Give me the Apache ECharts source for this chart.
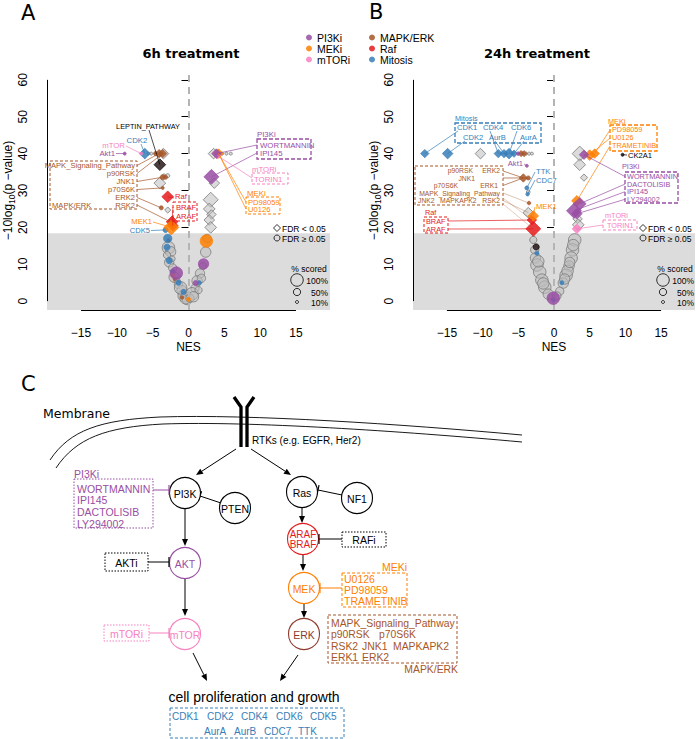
<!DOCTYPE html>
<html><head><meta charset="utf-8">
<script src="https://cdn.jsdelivr.net/npm/echarts@6.0.0/dist/echarts.min.js"></script>
<style>html,body{margin:0;padding:0;background:#fff;}#chart{width:696px;height:739px;}</style>
</head><body><div id="chart"></div>
<script>
// ---------------- DATA ----------------
// point = [NES, -10log10(p-value), % scored, FDR<0.05 ? 1 : 0]
const X_TICKS = [-15, -10, -5, 0, 5, 10, 15];
const Y_TICKS = [0, 10, 20, 30, 40, 50, 60];
const X_RANGE = [-19.75, 19.75];
const Y_RANGE = [-2.4, 62.4];
const FDR_CUTOFF = 18.4;
const SIZE_LEGEND = [100, 50, 10];

// ---- panel A : 6h treatment ----
const A_other = [
  [-3.5, 40, 60, 1], [-4.0, 32, 70, 1], [-2.9, 24.7, 20, 1], [-5.2, 40, 10, 0], [-5.6, 40, 10, 0],
  [-2.9, 34, 20, 0], [-3.4, 34, 15, 0],
  [3.5, 40, 60, 1], [3.6, 32, 60, 1], [3.1, 27.5, 100, 1], [2.9, 25, 70, 1], [3.2, 23.5, 50, 1],
  [2.9, 22, 60, 1], [3.1, 20, 70, 1], [4.7, 40, 10, 0], [5.3, 40, 10, 0], [5.9, 40, 10, 0],
  [-2.8, 14.5, 100, 0], [-2.5, 13.4, 80, 0], [-3.0, 12.5, 50, 0], [-2.7, 10.5, 70, 0], [-2.2, 9.0, 60, 0],
  [-2.0, 6.5, 80, 0], [-1.6, 5.5, 40, 0], [-1.4, 4.5, 60, 0], [-0.9, 2.8, 80, 0], [-0.6, 1.5, 100, 0],
  [-0.2, 0.3, 70, 0], [-2.3, 11.5, 40, 0], [-1.1, 3.6, 100, 0], [-0.4, 0.8, 90, 0],
  [2.6, 17, 60, 0], [2.4, 13.3, 80, 0], [2.0, 9.5, 50, 0], [1.6, 7.5, 70, 0], [1.2, 5.5, 80, 0],
  [0.9, 3.5, 60, 0], [0.5, 2.0, 100, 0], [0.2, 0.8, 60, 0], [1.4, 3.0, 50, 0], [1.8, 6.2, 60, 0], [0.7, 1.2, 80, 0]
];
const A_black = [[-4.0, 37, 70, 1]];
const A_pi3k = [[3.9, 40, 50, 1], [3.2, 33.7, 100, 1], [2.1, 10.1, 80, 0], [-1.7, 7.6, 100, 0], [1.0, 4.9, 30, 0], [-8.9, 40, 10, 0]];
const A_mek = [[4.2, 40, 50, 1], [2.5, 16.3, 100, 0], [-2.4, 20, 100, 1], [0.0, 0.5, 20, 0], [-2.2, 7.0, 20, 0]];
const A_mtor = [[4.0, 39.5, 30, 1], [-6.6, 40, 10, 0]];
const A_mapk = [[-4.1, 40, 40, 1], [-3.6, 40, 40, 1], [-3.6, 33.6, 30, 0], [-3.6, 30.7, 10, 0], [-3.8, 25.3, 20, 0],
  [-2.5, 21.5, 20, 0], [-4.6, 40, 20, 0], [-3.2, 33.6, 20, 0], [-2.8, 16.5, 15, 0], [-1.9, 6.0, 15, 0], [-0.9, 1.0, 15, 0]];
const A_raf = [[-2.9, 28.3, 70, 1], [-2.3, 21.5, 70, 1], [-2.2, 20.5, 60, 1]];
const A_mitosis = [[-6.1, 40, 60, 1], [-3.2, 19.3, 30, 0], [-2.9, 17, 60, 0], [-3.0, 14.6, 40, 0], [-2.7, 11, 40, 0],
  [-2.2, 8, 30, 0], [-1.4, 5, 30, 0], [-0.7, 2.5, 30, 0], [1.5, 5, 20, 0]];

// ---- panel B : 24h treatment ----
const B_other = [
  [-10.3, 40, 60, 1], [-3.9, 40, 10, 0], [-3.5, 40, 10, 0], [-3.1, 40, 10, 0], [-3.6, 29.6, 15, 0],
  [-3.6, 24, 60, 1], [3.6, 40, 100, 1], [3.6, 37, 70, 1], [4.2, 33.5, 30, 1], [3.3, 22.3, 50, 1], [3.4, 20.7, 70, 1],
  [-2.9, 16.6, 50, 0], [-2.7, 13.9, 60, 0], [-2.6, 11.7, 80, 0], [-2.4, 9.8, 100, 0], [-2.0, 7.9, 100, 0],
  [-1.7, 5.7, 100, 0], [-1.3, 3.8, 100, 0], [-0.8, 1.9, 80, 0], [-2.2, 10.8, 90, 0], [-1.5, 4.8, 90, 0],
  [2.9, 16.6, 100, 0], [2.6, 13.9, 100, 0], [2.4, 11.7, 100, 0], [2.1, 9.5, 80, 0], [1.7, 7, 100, 0],
  [1.3, 4.9, 80, 0], [0.8, 2.7, 60, 0], [0.4, 1.4, 60, 0], [2.7, 15.2, 90, 0], [1.9, 8.2, 90, 0],
  [1.5, 6.0, 80, 0], [2.2, 10.5, 80, 0]
];
const B_black = [[9.6, 39.7, 10, 0], [-2.5, 14.7, 40, 0]];
const B_pi3k = [[4.2, 39.7, 50, 1], [3.6, 26.4, 80, 1], [2.8, 24.5, 100, 1], [3.2, 23.7, 60, 1], [-0.1, 0.8, 100, 0], [-3.8, 36.7, 10, 0], [-5.0, 40, 15, 0]];
const B_mek = [[5.7, 40, 50, 1], [5.0, 39.6, 60, 1], [3.2, 27.2, 60, 1], [-2.9, 23.1, 60, 1]];
const B_mtor = [[3.2, 19.6, 50, 1]];
const B_mapk = [[-4.3, 33.4, 40, 1], [-3.6, 33.4, 20, 0], [-3.5, 26.6, 15, 0], [-4.6, 40, 20, 1], [-4.2, 40, 20, 1]];
const B_raf = [[-3.1, 22, 50, 1], [-2.9, 19.6, 100, 1]];
const B_mitosis = [[-18.1, 40, 40, 1], [-14.9, 40, 60, 1], [-7.8, 40, 40, 1], [-7.0, 40, 40, 1], [-6.3, 40, 60, 1],
  [-5.6, 40, 30, 1], [-3.8, 30.7, 20, 0], [-3.7, 29.0, 15, 0], [-2.4, 13, 20, 0], [-0.1, 0.3, 20, 0], [1.1, 5, 20, 0]];

// ---------------- STYLE ----------------
const FONT = '"Liberation Sans", Arial, Helvetica, sans-serif';
const DJV = '"DejaVu Sans", Verdana, sans-serif';
const C = {pi3k:'#984EA3', mek:'#FF7F00', mtor:'#F781BF', mapk:'#A65628', raf:'#E41A1C', mit:'#377EB8', erk:'#8E3B2E'};
const ANN = 7.3;

const GROUPS = [
  {name:'other', color:'rgba(190,190,190,0.55)', border:'#7a7a7a', A:A_other, B:B_other},
  {name:'labelled', color:'#2a1a1a', border:'#000', A:A_black, B:B_black},
  {name:'MAPK/ERK', color:C.mapk, A:A_mapk, B:B_mapk},
  {name:'Mitosis', color:C.mit, A:A_mitosis, B:B_mitosis},
  {name:'Raf', color:C.raf, A:A_raf, B:B_raf},
  {name:'MEKi', color:C.mek, A:A_mek, B:B_mek},
  {name:'mTORi', color:C.mtor, A:A_mtor, B:B_mtor},
  {name:'PI3Ki', color:C.pi3k, A:A_pi3k, B:B_pi3k}
];
const symFn = v => v[3] ? 'diamond' : 'circle';
const sizeFn = v => v[3] ? 4 + 0.11 * v[2] : 2 + 0.105 * v[2];
const minus = v => v < 0 ? '\u2212' + (-v) : '' + v;

const chart = echarts.init(document.getElementById('chart'), null, {renderer:'svg'});

const grids = [
  {left:47, top:71, width:283, height:239, outerBoundsMode:'none'},
  {left:413, top:71, width:282, height:239, outerBoundsMode:'none'}
];
const xAxes = [0, 1].map(i => ({
  gridIndex:i, type:'value', min:X_RANGE[0], max:X_RANGE[1],
  name:'NES', nameLocation:'middle', nameGap:31,
  nameTextStyle:{fontSize:12, color:'#000', fontFamily:FONT},
  axisLine:{show:false}, splitLine:{show:false},
  axisTick:{show:true, customValues:X_TICKS, length:7, lineStyle:{color:'#000', width:1}},
  axisLabel:{customValues:X_TICKS, margin:17, fontSize:12, color:'#000', fontFamily:FONT, formatter:minus}
}));
const yAxes = [0, 1].map(i => ({
  gridIndex:i, type:'value', min:Y_RANGE[0], max:Y_RANGE[1],
  name:'{a|\u221210log}{s|10}{a|(p \u2212value)}', nameLocation:'middle', nameRotate:90, nameGap:30,
  nameTextStyle:{color:'#000', fontFamily:FONT, fontSize:12,
    rich:{a:{fontSize:12, fontFamily:FONT, color:'#000', lineHeight:16, verticalAlign:'middle'},
          s:{fontSize:8.5, fontFamily:FONT, color:'#000', lineHeight:16, verticalAlign:'bottom'}}},
  axisLine:{show:false}, splitLine:{show:false},
  axisTick:{show:true, customValues:Y_TICKS, length:7, lineStyle:{color:'#000', width:1}},
  axisLabel:{customValues:Y_TICKS, margin:18, rotate:90, fontSize:12, color:'#000', fontFamily:FONT}
}));

const series = [];
[0, 1].forEach(p => {
  series.push({type:'scatter', xAxisIndex:p, yAxisIndex:p, data:[], silent:true, z:1,
    markArea:{silent:true, itemStyle:{color:'#DCDCDC'},
      data:[[{coord:[X_RANGE[0], Y_RANGE[0]]}, {coord:[X_RANGE[1], FDR_CUTOFF]}]]}});
  series.push({type:'scatter', xAxisIndex:p, yAxisIndex:p, data:[], silent:true, z:2,
    markLine:{silent:true, symbol:['none', 'none'], label:{show:false}, animation:false,
      data:[
        [{coord:[0, Y_RANGE[0]], lineStyle:{color:'#b4b4b4', width:2, type:[7, 5]}}, {coord:[0, Y_RANGE[1]]}],
        [{coord:[X_TICKS[0], Y_RANGE[0]], lineStyle:{color:'#000', width:1, type:'solid'}}, {coord:[X_TICKS[X_TICKS.length - 1], Y_RANGE[0]]}],
        [{coord:[X_RANGE[0], Y_TICKS[0]], lineStyle:{color:'#000', width:1, type:'solid'}}, {coord:[X_RANGE[0], Y_TICKS[Y_TICKS.length - 1]]}]
      ]}});
  GROUPS.forEach((g, k) => {
    series.push({type:'scatter', name:g.name, xAxisIndex:p, yAxisIndex:p, data:p ? g.B : g.A,
      symbol:symFn, symbolSize:sizeFn, z:3 + k, clip:false, animation:false,
      itemStyle:{color:g.color, borderColor:g.border || g.color, borderWidth:0.8, opacity: g.name === 'other' ? 1 : 0.85}});
  });
});

const legendText = {fontSize:10.5, color:'#000', fontFamily:FONT, lineHeight:10};
chart.setOption({
  animation:false,
  textStyle:{fontFamily:FONT},
  grid:grids, xAxis:xAxes, yAxis:yAxes, series:series,
  legend:[
    {data:['PI3Ki', 'MEKi', 'mTORi'], orient:'vertical', left:306, top:32, padding:0, icon:'circle', itemWidth:6, itemHeight:6, itemGap:0,
      selectedMode:false, textStyle:legendText, itemStyle:{borderWidth:0}},
    {data:['MAPK/ERK', 'Raf', 'Mitosis'], orient:'vertical', left:369, top:32, padding:0, icon:'circle', itemWidth:6, itemHeight:6, itemGap:0,
      selectedMode:false, textStyle:legendText, itemStyle:{borderWidth:0}}
  ]
});

// ---------------- ANNOTATIONS & DIAGRAM ----------------
const G = [];
function txt(s, x, y, color, size, align, family, weight) {
  G.push({type:'text', x:x, y:y, z:100, silent:true,
    style:{text:s, fill:color, fontSize:size, fontFamily:family || FONT, fontWeight:weight || 'normal',
      align:align || 'left', verticalAlign:'middle'}});
}
function seg(x1, y1, x2, y2, color, w, dash, op) {
  G.push({type:'line', z:99, silent:true, shape:{x1:x1, y1:y1, x2:x2, y2:y2},
    style:{stroke:color, lineWidth:w || 1, lineDash:dash || null, opacity:op == null ? 1 : op}});
}
function box(x, y, w, h, color, dash, lw) {
  G.push({type:'rect', z:99, silent:true, shape:{x:x, y:y, width:w, height:h},
    style:{fill:'none', stroke:color, lineWidth:lw || 1, lineDash:dash || null}});
}
function circ(cx, cy, r, color, lw, fill) {
  G.push({type:'circle', z:99, silent:true, shape:{cx:cx, cy:cy, r:r},
    style:{fill:fill || 'none', stroke:color, lineWidth:lw || 1}});
}
function curve(x1, y1, c1x, c1y, c2x, c2y, x2, y2) {
  G.push({type:'bezierCurve', z:98, silent:true, shape:{x1:x1, y1:y1, cpx1:c1x, cpy1:c1y, cpx2:c2x, cpy2:c2y, x2:x2, y2:y2},
    style:{fill:'none', stroke:'#000', lineWidth:0.9}});
}
function lead(panel, x, y, pt, color, w, op) {
  const q = chart.convertToPixel({gridIndex:panel}, [pt[0], pt[1]]);
  seg(x, y, q[0], q[1], color, w || 0.7, null, op);
}
function arrow(x1, y1, x2, y2, color) {
  color = color || '#000';
  const a = Math.atan2(y2 - y1, x2 - x1), L = 7, W = 3;
  const bx = x2 - L * Math.cos(a), by = y2 - L * Math.sin(a);
  seg(x1, y1, bx, by, color, 1);
  G.push({type:'polygon', z:99, silent:true, shape:{points:[[x2, y2],
    [bx + W * Math.sin(a), by - W * Math.cos(a)], [bx - W * Math.sin(a), by + W * Math.cos(a)]]}, style:{fill:color}});
}
function inhib(x1, y1, x2, y2, color) {
  color = color || '#000';
  seg(x1, y1, x2, y2, color, 1);
  const a = Math.atan2(y2 - y1, x2 - x1), H = 5;
  seg(x2 + H * Math.sin(a), y2 - H * Math.cos(a), x2 - H * Math.sin(a), y2 + H * Math.cos(a), color, 1.2);
}
function node(cx, cy, label, color, size) {
  circ(cx, cy, 15.5, color, 1.1, '#fff');
  G.push({type:'text', x:cx, y:cy + 0.5, z:100, silent:true,
    style:{text:label, fill:color, fontSize:size || 10.5, fontFamily:FONT, align:'center', verticalAlign:'middle', lineHeight:10}});
}

// panel letters & titles
txt('A', 21, 13, '#000', 21, 'left', DJV);
txt('B', 369, 12, '#000', 21, 'left', DJV);
txt('C', 21, 384, '#000', 21, 'left', DJV);
txt('6h treatment', 191, 53, '#000', 13, 'center', DJV, 'bold');
txt('24h treatment', 537, 53, '#000', 13, 'center', DJV, 'bold');

// FDR and size legends (both panels)
[0, 366].forEach(dx => {
  G.push({type:'polygon', z:100, silent:true, shape:{points:[[277 + dx, 224.5], [280.5 + dx, 228], [277 + dx, 231.5], [273.5 + dx, 228]]},
    style:{fill:'none', stroke:'#000', lineWidth:0.8}});
  txt('FDR < 0.05', 282 + dx, 228.5, '#000', 8.5);
  circ(277 + dx, 238, 3, '#000', 0.8);
  txt('FDR \u2265 0.05', 282 + dx, 238.5, '#000', 8.5);
  txt('% scored', 309 + dx, 269, '#000', 8.5, 'center');
  const ys = [280, 292, 302];
  SIZE_LEGEND.forEach((pc, i) => {
    circ(297 + dx, ys[i], (2 + 0.105 * pc) / 2, '#000', 0.8);
    txt(pc + '%', 328 + dx, ys[i] + 0.5, '#000', 8.5, 'right');
  });
});

// ---- panel A labels ----
txt('LEPTIN_PATHWAY', 148, 126, '#000', ANN, 'center'); lead(0, 149, 130, A_black[0], '#000');
txt('CDK2', 137, 140, C.mit, ANN + 0.5, 'center'); lead(0, 141, 144, A_mitosis[0], C.mit);
txt('mTOR', 125, 145.5, C.mtor, ANN + 0.5, 'right'); lead(0, 126, 146, A_mtor[1], C.mtor);
txt('Akt1', 115, 153.5, C.pi3k, ANN + 0.5, 'right'); lead(0, 116, 153.5, A_pi3k[5], C.pi3k);
box(50, 161, 87, 48, C.mapk, [3, 2]);
const aMapk = [['MAPK_Signaling_Pathway', 165.5, 0], ['p90RSK', 173.5, 1], ['JNK1', 181.5, 2], ['p70S6K', 189.5, 3], ['ERK2', 197.5, 4], ['RSK2', 205, 5]];
aMapk.forEach(r => { txt(r[0], 135, r[1], C.mapk, ANN + 0.3, 'right'); lead(0, 137, r[1], A_mapk[r[2]], C.mapk); });
txt('MAPK/ERK', 52, 205, C.mapk, ANN + 0.3, 'left');
txt('Raf', 175, 196.5, C.raf, ANN + 0.3, 'left'); lead(0, 174, 198, A_raf[0], C.raf);
box(173, 202, 24, 19, C.raf, [3, 2]);
txt('BRAF', 176, 207, C.raf, ANN + 0.3); txt('ARAF', 176, 216, C.raf, ANN + 0.3);
lead(0, 173, 207, A_raf[1], C.raf); lead(0, 173, 216, A_raf[2], C.raf);
txt('MEK1', 152, 221.5, C.mek, ANN + 0.3, 'right'); lead(0, 153, 222, A_mek[2], C.mek);
txt('CDK5', 150, 230.5, C.mit, ANN + 0.3, 'right'); lead(0, 151, 230.5, A_mitosis[1], C.mit);
txt('PI3Ki', 257, 134, C.pi3k, ANN + 0.5);
box(257, 139, 54, 20, C.pi3k, [4, 2], 1.3);
txt('WORTMANNIN', 260, 145, C.pi3k, ANN + 0.5); txt('IPI145', 260, 153, C.pi3k, ANN + 0.5);
lead(0, 257, 145, A_pi3k[0], C.pi3k); lead(0, 257, 153, A_pi3k[1], C.pi3k);
txt('mTORi', 252, 169, C.mtor, ANN + 0.5);
box(252, 173, 36, 11, C.mtor, [3, 2]); txt('TORIN1', 254, 179, C.mtor, ANN + 0.5);
lead(0, 252, 178, A_mtor[0], C.mtor);
txt('MEKi', 247, 193, C.mek, ANN + 0.5);
box(246, 197, 34, 17, C.mek, [3, 2]);
txt('PD98059', 248, 202, C.mek, ANN + 0.3); txt('U0126', 248, 209.5, C.mek, ANN + 0.3);
lead(0, 246, 202, A_mek[0], C.mek); lead(0, 246, 209, A_mek[0], C.mek);

// ---- panel B labels ----
txt('Mitosis', 455, 118, C.mit, ANN);
box(455, 123, 86, 20, C.mit, [4, 2], 1.3);
const bMit = [['CDK1', 457, 127.5, 0, 458, 131], ['CDK4', 483, 127.5, 2, 490, 131], ['CDK6', 511, 127.5, 4, 517, 131],
  ['CDK2', 463, 137, 1, 465, 141], ['AurB', 489, 137, 3, 495, 141], ['AurA', 520, 137, 5, 524, 141]];
bMit.forEach(r => { txt(r[0], r[1], r[2], C.mit, ANN + 0.3); lead(1, r[4], r[5], B_mitosis[r[3]], C.mit); });
txt('Akt1', 523, 163, C.pi3k, ANN + 0.3, 'right'); lead(1, 524, 164, B_pi3k[5], C.pi3k);
txt('TTK', 536, 171.5, C.mit, ANN + 0.3); txt('CDC7', 536, 180, C.mit, ANN + 0.3);
lead(1, 535, 172, B_mitosis[6], C.mit); lead(1, 535, 180, B_mitosis[7], C.mit);
box(415, 166, 88, 39, C.mapk, [3, 2]);
const BF = 6.8;
txt('p90RSK', 473, 170.5, C.mapk, BF, 'right'); txt('ERK2', 500, 170.5, C.mapk, BF, 'right');
txt('JNK1', 475, 178, C.mapk, BF, 'right');
txt('p70S6K', 458, 185.5, C.mapk, BF, 'right'); txt('ERK1', 498, 185.5, C.mapk, BF, 'right');
txt('MAPK_Signaling_Pathway', 500, 193, C.mapk, BF, 'right');
txt('JNK2', 418, 200.5, C.mapk, BF); txt('MAPKAPK2', 440, 200.5, C.mapk, BF); txt('RSK2', 500, 200.5, C.mapk, BF, 'right');
lead(1, 503, 171, B_mapk[0], C.mapk); lead(1, 503, 178, B_mapk[1], C.mapk); lead(1, 503, 185.5, B_mapk[0], C.mapk);
lead(1, 503, 193, B_mapk[2], C.mapk, 0.6, 0.6); lead(1, 503, 200.5, B_other[5], C.mapk, 0.6, 0.6);
lead(1, 503, 198, B_raf[0], C.mapk, 0.6, 0.5); lead(1, 503, 204, B_raf[1], C.mapk, 0.6, 0.5);
txt('MEK1', 536, 206.5, C.mek, ANN + 0.3); lead(1, 535, 207, B_mek[3], C.mek);
txt('Raf', 425, 212.5, C.raf, ANN);
box(424, 217, 24, 16, C.raf, [3, 2]);
txt('BRAF', 426, 221, C.raf, ANN); txt('ARAF', 426, 229, C.raf, ANN);
lead(1, 448, 221, B_raf[0], C.raf); lead(1, 448, 229, B_raf[1], C.raf);
txt('MEKi', 608, 121.5, C.mek, ANN);
box(610, 125, 47, 26, C.mek, [4, 2], 1.3);
txt('PD98059', 612, 129.5, C.mek, ANN); txt('U0126', 612, 137.5, C.mek, ANN); txt('TRAMETINIB', 612, 145.5, C.mek, ANN);
lead(1, 610, 130, B_mek[0], C.mek); lead(1, 610, 138, B_mek[1], C.mek); lead(1, 610, 146, B_mek[2], C.mek);
txt('CK2A1', 628, 155, '#000', ANN + 0.3); lead(1, 627, 155, B_black[0], '#000');
txt('PI3Ki', 622, 166.5, C.pi3k, ANN);
box(625, 172, 53, 31, C.pi3k, [4, 2], 1.3);
['WORTMANNIN', 'DACTOLISIB', 'IPI145', 'LY294002'].forEach((s, i) => {
  const y = 176.5 + i * 7.6; txt(s, 627, y, C.pi3k, ANN); lead(1, 625, y, B_pi3k[i], C.pi3k);
});
txt('mTORi', 605, 215, C.mtor, ANN);
box(603, 220, 34, 10, C.mtor, [3, 2]); txt('TORIN1', 607, 225.5, C.mtor, ANN);
lead(1, 603, 225, B_mtor[0], C.mtor);

// ---- panel C : pathway diagram ----
curve(50, 460, 70, 430, 100, 420, 160, 417); curve(160, 417, 250, 414, 400, 424, 522, 435);
curve(56, 468, 76, 438, 106, 427, 163, 424); curve(163, 424, 250, 421, 400, 431, 522, 442);
txt('Membrane', 43, 413, '#000', 12.5, 'left', DJV);
G.push({type:'polyline', z:100, silent:true, shape:{points:[[241, 447], [241, 407], [234, 397]]}, style:{fill:'none', stroke:'#000', lineWidth:3.3}});
G.push({type:'polyline', z:100, silent:true, shape:{points:[[247, 447], [247, 407], [254, 397]]}, style:{fill:'none', stroke:'#000', lineWidth:3.3}});
txt('RTKs (e.g. EGFR, Her2)', 252, 440, '#000', 10);

arrow(236, 449, 196, 475);
arrow(251, 449, 291, 475);
inhib(221, 503, 200, 496);
inhib(342, 495, 318, 490);
arrow(185, 509, 185, 546);
arrow(185, 579, 185, 616);
arrow(302, 508, 302, 523);
arrow(303, 555, 303, 571);
arrow(304, 604, 304, 618);
arrow(193, 653, 207, 681);
arrow(298, 655, 280, 681);

node(185, 493, 'PI3K', '#000');
node(235, 508, 'PTEN', '#000');
node(302, 492, 'Ras', '#000');
node(357, 498, 'NF1', '#000');
node(303, 539, 'ARAF\nBRAF', C.raf, 10);
node(185, 563, 'AKT', C.pi3k);
node(304, 588, 'MEK', C.mek);
node(185, 634, 'mTOR', C.mtor);
node(304, 634, 'ERK', C.erk);

txt('PI3Ki', 74, 474, C.pi3k, 10.5);
box(74, 479, 79, 49, C.pi3k, [1.5, 1.5]);
['WORTMANNIN', 'IPI145', 'DACTOLISIB', 'LY294002'].forEach((s, i) => txt(s, 77, 488.5 + i * 11.7, C.pi3k, 10.5));
inhib(153, 490, 169, 490, C.pi3k);
box(105, 553, 43, 18, '#000', [1.5, 1.5]); txt('AKTi', 126.5, 562.5, '#000', 10.5, 'center');
inhib(148, 562, 169, 562, '#000');
box(342, 532, 44, 15, '#000', [1.5, 1.5]); txt('RAFi', 364, 540, '#000', 10.5, 'center');
inhib(342, 539, 319, 539, '#000');
txt('MEKi', 407, 567, C.mek, 10.5, 'right');
box(342, 573, 65, 34, C.mek, [3, 2]);
['U0126', 'PD98059', 'TRAMETINIB'].forEach((s, i) => txt(s, 344, 579 + i * 11, C.mek, 10.5));
inhib(342, 588, 320, 588, C.mek);
box(104, 625, 45, 16, C.mtor, [1.5, 1.5]); txt('mTORi', 126.5, 633.5, C.mtor, 10.5, 'center');
inhib(149, 633, 169, 633, C.mtor);
box(328, 615, 129, 48, C.mapk, [3, 2]);
txt('MAPK_Signaling_Pathway', 331, 623, C.mapk, 10.4);
txt('p90RSK', 331, 634.5, C.mapk, 10.4); txt('p70S6K', 379, 634.5, C.mapk, 10.4);
txt('RSK2', 331, 646, C.mapk, 10.4); txt('JNK1', 362, 646, C.mapk, 10.4); txt('MAPKAPK2', 393, 646, C.mapk, 10.4);
txt('ERK1', 331, 657, C.mapk, 10.4); txt('ERK2', 362, 657, C.mapk, 10.4);
txt('MAPK/ERK', 458, 669, C.mapk, 10.4, 'right');

txt('cell proliferation and growth', 254, 697, '#000', 14, 'center');
box(170, 708, 174, 30, C.mit, [3, 2]);
[['CDK1', 172], ['CDK2', 207], ['CDK4', 241], ['CDK6', 276], ['CDK5', 310]].forEach(r => txt(r[0], r[1], 716.5, C.mit, 10));
[['AurA', 204], ['AurB', 234], ['CDC7', 264], ['TTK', 298]].forEach(r => txt(r[0], r[1], 731.5, C.mit, 10));

chart.setOption({graphic:{elements:G}});
</script>
</body></html>
